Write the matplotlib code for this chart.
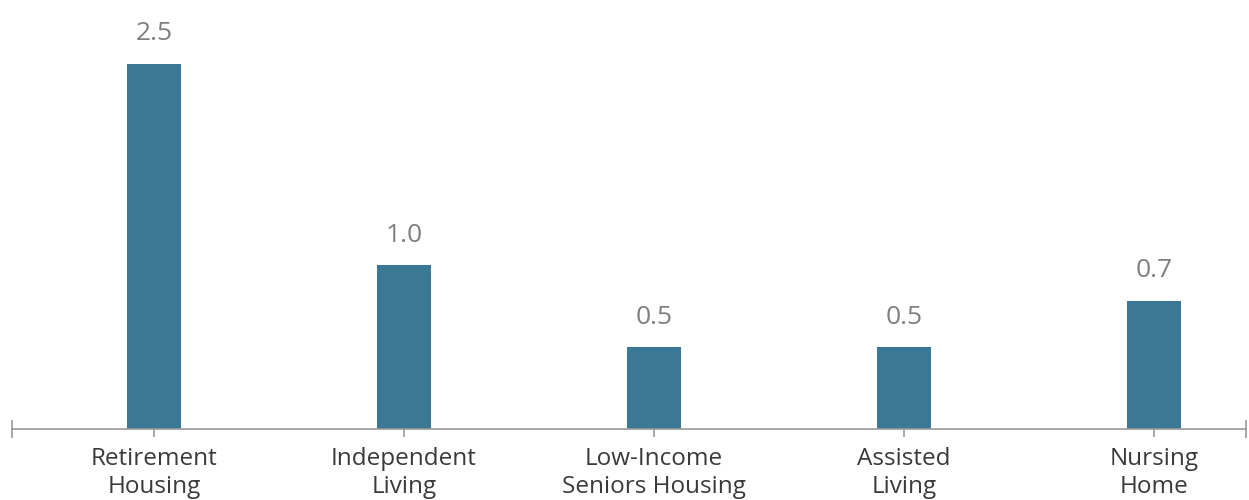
import matplotlib
matplotlib.use("Agg")
import matplotlib.pyplot as plt

categories = ["Retirement\nHousing", "Independent\nLiving", "Low-Income\nSeniors Housing",
              "Assisted\nLiving", "Nursing\nHome"]
values = [2.5, 1.12, 0.56, 0.56, 0.88]
value_labels = ["2.5", "1.0", "0.5", "0.5", "0.7"]

plt.rcParams['font.family'] = ['Open Sans', 'DejaVu Sans']

DPI = 100
fig = plt.figure(figsize=(12.49, 5.0), dpi=DPI)
ax = fig.add_axes([12 / 1249, 71 / 500, 1234 / 1249, 429 / 500])

x = list(range(len(categories)))
ax.bar(x, values, width=0.216, color="#3b7896", zorder=2)

for xi, v, lab in zip(x, values, value_labels):
    ax.annotate(lab, (xi, v), xytext=(0, 23.5 * 72 / DPI), textcoords="offset points",
                ha="center", va="baseline", fontsize=19, color="#7f7f7f")

ax.set_xlim(-0.568, 4.368)
ax.set_ylim(0, 429 / 146)

for s in ["top", "right", "left"]:
    ax.spines[s].set_visible(False)
ax.spines["bottom"].set_color("#9a9a9a")
ax.spines["bottom"].set_linewidth(1.2)

ax.set_yticks([])
ax.set_xticks(x)
ax.set_xticklabels(categories, fontsize=17.5, color="#3a3a3a", linespacing=1.22)
ax.tick_params(axis="x", which="major", direction="out", length=8 * 72 / DPI,
               width=1.2, color="#9a9a9a", pad=7)
ax.set_xticks([-0.568, 4.368], minor=True)
ax.tick_params(axis="x", which="minor", direction="inout", length=18 * 72 / DPI,
               width=1.2, color="#9a9a9a")

fig.savefig("out.png", dpi=DPI)
